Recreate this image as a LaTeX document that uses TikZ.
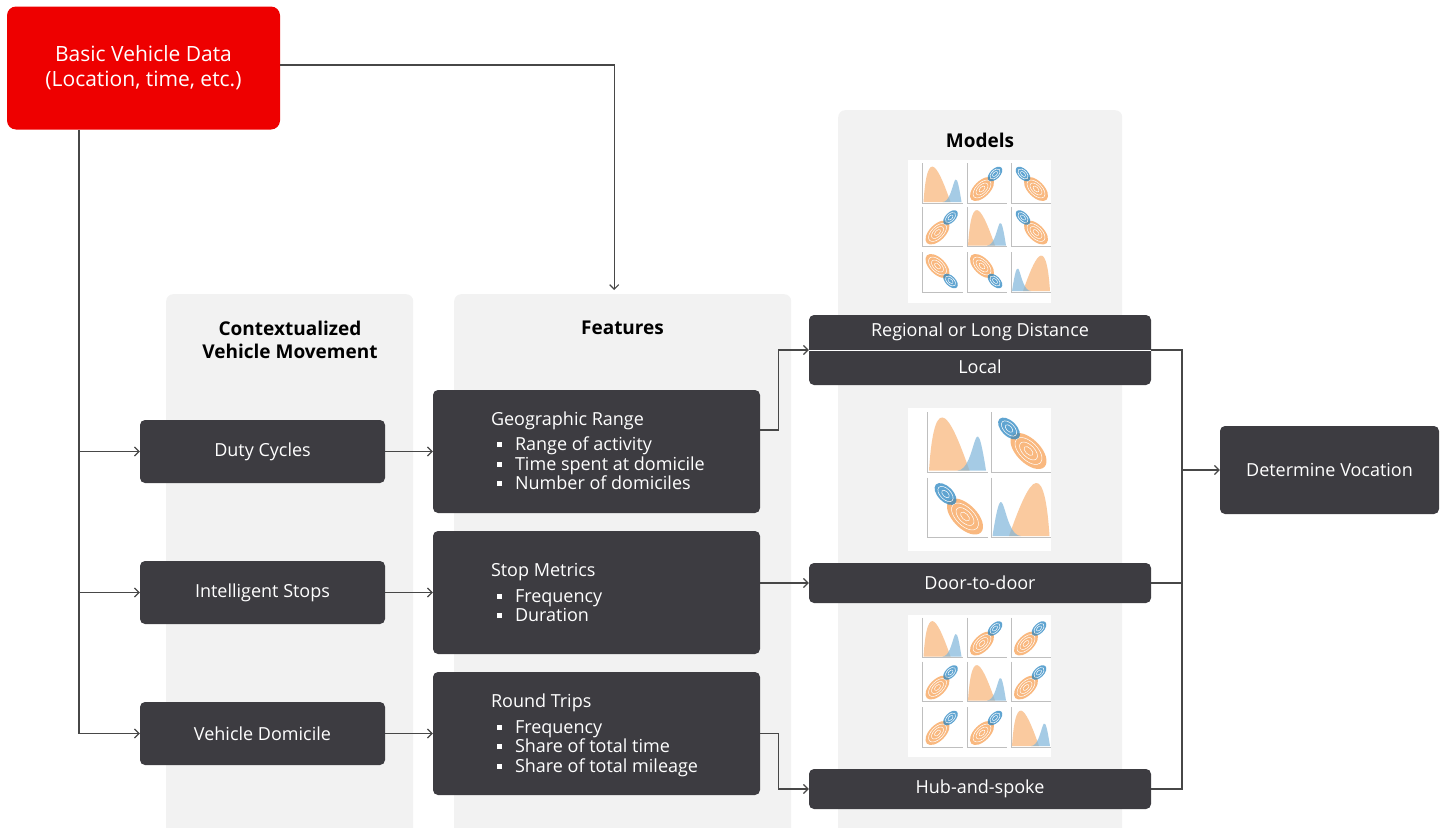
\documentclass[tikz,border=0pt]{standalone}
\usepackage{fontspec}
\setmainfont{Open Sans}
\usetikzlibrary{arrows.meta}

\definecolor{vehred}{HTML}{EE0000}
\definecolor{boxgray}{HTML}{3D3C41}
\definecolor{panelgray}{HTML}{F2F2F2}
\definecolor{linegray}{HTML}{474747}
\definecolor{plotorange}{HTML}{F5892A}
\definecolor{plotblue}{HTML}{2A86C2}

\newcommand{\sqitem}{\hspace*{6pt}\rule[3.5pt]{5pt}{5pt}\hspace{13pt}}

\tikzset{
  panel/.style={fill=panelgray, rounded corners=7pt, inner sep=0pt, anchor=north west},
  darkbox/.style={fill=boxgray, rounded corners=5pt, text=white, inner sep=0pt,
    font=\fontsize{18}{19.5}\selectfont},
  boxtext/.style={text=white, inner sep=0pt, font=\fontsize{18}{19.5}\selectfont},
  listtext/.style={boxtext, anchor=west, align=left},
  title/.style={font=\fontsize{19}{23}\selectfont\bfseries, align=center},
  link/.style={draw=linegray, line width=1.2pt},
  arrow/.style={link, -{Straight Barb[length=4.5pt,width=9pt]}},
  axisline/.style={draw=black!25, line width=.4pt},
  density/.pic={
    \fill[plotorange!45] (-19,19) .. controls (-15,-42) and (-3,-12) .. (8,19) -- cycle;
    \fill[plotblue!60, fill opacity=.7] (0,19) .. controls (13,19) and (11,-32) .. (19,19) -- cycle;
  },
  contour/.pic={
    \fill[plotorange!80, fill opacity=.75] (-5,6) ellipse [x radius=15, y radius=8, rotate=45];
    \foreach \k in {.25,.5,.75}
      \draw[white, line width=.5pt] (-5,6) ellipse [x radius=15*\k, y radius=8*\k, rotate=45];
    \fill[plotblue, fill opacity=.75] (8,-9) ellipse [x radius=9, y radius=5, rotate=45];
    \foreach \k in {.35,.7}
      \draw[white, line width=.5pt] (8,-9) ellipse [x radius=9*\k, y radius=5*\k, rotate=45];
  }
}

\begin{document}
\begin{tikzpicture}[x=1pt, y=-1pt]
\useasboundingbox (0,0) rectangle (1445,827);

% panels
\node[panel, minimum width=247pt, minimum height=545pt] (ctxpanel) at (166,294) {};
\node[panel, minimum width=337pt, minimum height=545pt] (featpanel) at (454,294) {};
\node[panel, minimum width=284pt, minimum height=730pt] (modelpanel) at (838,110) {};
\node[title] (ctxtitle) at (290,339.5) {Contextualized\\Vehicle Movement};
\node[title] (feattitle) at (622.5,328) {Features};
\node[title] (modeltitle) at (980,140) {Models};

% source
\node[darkbox, fill=vehred, rounded corners=9pt, minimum width=273pt, minimum height=123pt,
  align=center, font=\fontsize{21}{25}\selectfont] (basic) at (143.5,68) {Basic Vehicle Data\\(Location, time, etc.)};

% vehicle movement
\node[darkbox, minimum width=245pt, minimum height=63pt] (duty) at (262.5,451.5) {Duty Cycles};
\node[darkbox, minimum width=245pt, minimum height=63pt] (stops) at (262.5,592.5) {Intelligent Stops};
\node[darkbox, minimum width=245pt, minimum height=63pt] (domicile) at (262.5,733.5) {Vehicle Domicile};

% features
\node[darkbox, minimum width=327pt, minimum height=123pt] (geo) at (596.5,451.5) {};
\node[darkbox, minimum width=327pt, minimum height=123pt] (metrics) at (596.5,592.5) {};
\node[darkbox, minimum width=327pt, minimum height=123pt] (trips) at (596.5,733.5) {};
\node[listtext] (geotext) at ([xshift=58pt, yshift=1pt]geo.west)
  {Geographic Range\\[6pt] \sqitem Range of activity\\ \sqitem Time spent at domicile\\ \sqitem Number of domiciles};
\node[listtext] (metricstext) at ([xshift=58pt]metrics.west)
  {Stop Metrics\\[6pt] \sqitem Frequency\\ \sqitem Duration};
\node[listtext] (tripstext) at ([xshift=58pt, yshift=-2pt]trips.west)
  {Round Trips\\[6pt] \sqitem Frequency\\ \sqitem Share of total time\\ \sqitem Share of total mileage};

% models
\node[darkbox, minimum width=342pt, minimum height=70pt] (regloc) at (980,350) {};
\node[boxtext] (regional) at (980,331.5) {Regional or Long Distance};
\node[boxtext] (local) at (980,366.5) {Local};
\node[darkbox, minimum width=342pt, minimum height=40pt] (door) at (980,583) {Door-to-door};
\node[darkbox, minimum width=342pt, minimum height=40pt] (hub) at (980,789) {Hub-and-spoke};
\node[darkbox, minimum width=219pt, minimum height=88pt] (vocation) at (1329.5,470) {Determine Vocation};

% plots
\fill[white] (908,160) rectangle (1051,303);
\fill[white] (908,408) rectangle (1051,551);
\fill[white] (908,615) rectangle (1051,757);
\foreach \x in {942.5,987,1031} \foreach \y in {183,226.5,272,637.5,681.5,727}
  \draw[axisline] (\x-20,\y-20) -- (\x-20,\y+20) -- (\x+20,\y+20);
\foreach \x in {957.5,1021} \foreach \y in {442,507.5}
  \draw[axisline] (\x-30,\y-30) -- (\x-30,\y+30) -- (\x+30,\y+30);
\foreach \x/\y/\s in {942.5/183/1, 987/226.5/1, 1031/272/-1}
  \pic[xscale=\s] at (\x,\y) {density};
\foreach \x/\y/\sx/\sy in {987/183/1/1, 942.5/226.5/1/1, 1031/183/-1/1, 1031/226.5/-1/1,
    942.5/272/1/-1, 987/272/1/-1}
  \pic[xscale=\sx, yscale=\sy] at (\x,\y) {contour};
\foreach \x/\y/\s in {957.5/442/1, 1021/507.5/-1}
  \pic[scale=1.5, xscale=\s] at (\x,\y) {density};
\foreach \x/\y/\s in {1021/442/-1, 957.5/507.5/-1}
  \pic[scale=1.5, xscale=\s] at (\x,\y) {contour};
\foreach \x/\y in {942.5/637.5, 987/681.5, 1031/727}
  \pic at (\x,\y) {density};
\foreach \x/\y in {987/637.5, 1031/637.5, 942.5/681.5, 1031/681.5, 942.5/727, 987/727}
  \pic at (\x,\y) {contour};

% connectors
\coordinate (trunk) at (79,130);
\coordinate (bus) at (1182,470);
\draw[arrow] ([yshift=3pt]basic.east) -| ([xshift=-8.5pt, yshift=4pt]featpanel.north);
\draw[arrow] (trunk) |- (duty.west);
\draw[arrow] (trunk) |- (stops.west);
\draw[arrow] (trunk) |- (domicile.west);
\draw[arrow] (duty.east) -- (geo.west);
\draw[arrow] (stops.east) -- (metrics.west);
\draw[arrow] (domicile.east) -- (trips.west);
\draw[arrow] ([yshift=21.5pt]geo.east) -- ++(18,0) |- (regloc.west);
\draw[arrow] (metrics.east |- door.west) -- (door.west);
\draw[arrow] (trips.east) -- ++(18,0) |- (hub.west);
\draw[white, line width=1pt] (regloc.west) -- (regloc.east);
\draw[link] (regloc.east) -| (bus);
\draw[link] (hub.east) -| (bus);
\draw[link] (door.east) -- (door.east -| bus);
\draw[arrow] (bus) -- (vocation.west);
\end{tikzpicture}
\end{document}
